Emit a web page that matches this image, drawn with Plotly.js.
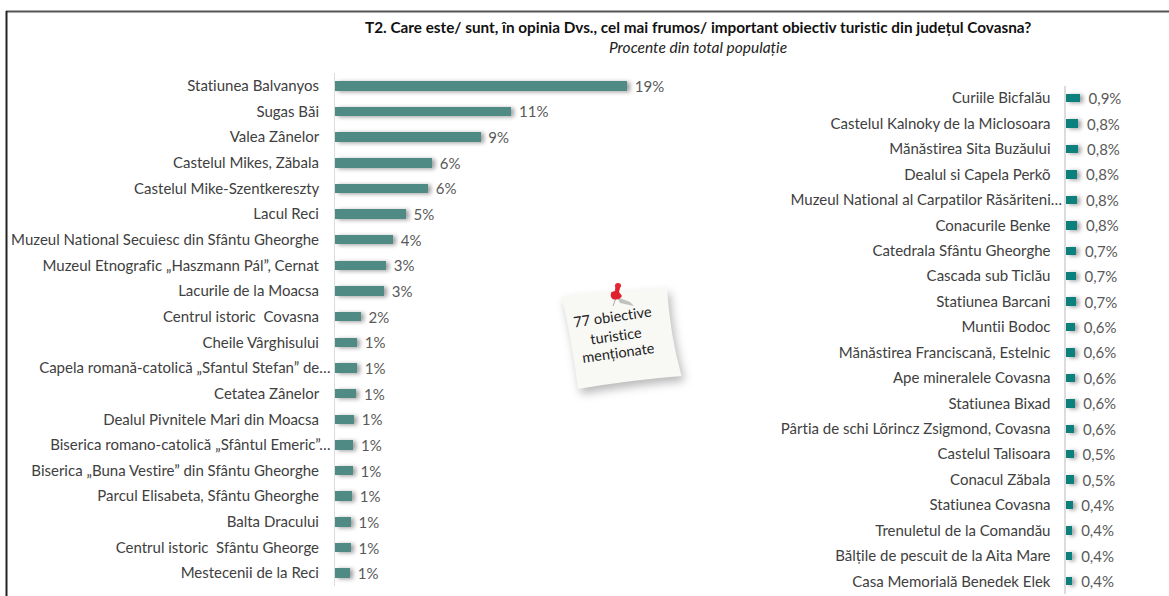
<!DOCTYPE html>
<html>
<head>
<meta charset="utf-8">
<script src="https://cdn.plot.ly/plotly-3.0.1.min.js"></script>
<style>
html,body{margin:0;padding:0;background:#fff;overflow:hidden}
#chart{width:1169px;height:596px}
svg text{font-variant-ligatures:none !important;font-feature-settings:"liga" 0,"clig" 0 !important}
.bars .point path{filter:drop-shadow(3px 1px 2px rgba(0,0,0,.38))}
.shapelayer path[data-index="2"]{filter:drop-shadow(3px 5px 5px rgba(0,0,0,.28))}
</style>
</head>
<body>
<div id="chart"></div>
<script>
const leftCategories = [
  "Statiunea Balvanyos","Sugas Băi","Valea Zânelor","Castelul Mikes, Zăbala",
  "Castelul Mike-Szentkereszty","Lacul Reci","Muzeul National Secuiesc din Sfântu Gheorghe",
  "Muzeul Etnografic „Haszmann Pál”, Cernat","Lacurile de la Moacsa","Centrul istoric  Covasna",
  "Cheile Vârghisului","Capela romană-catolică „Sfantul Stefan” de…","Cetatea Zânelor",
  "Dealul Pivnitele Mari din Moacsa","Biserica romano-catolică „Sfântul Emeric”…",
  "Biserica „Buna Vestire” din Sfântu Gheorghe","Parcul Elisabeta, Sfântu Gheorghe",
  "Balta Dracului","Centrul istoric  Sfântu Gheorge","Mestecenii de la Reci"
];
const leftValues = [18.96,11.45,9.45,6.3,6.04,4.6,3.77,3.31,3.18,1.67,1.43,1.43,1.38,1.23,1.19,1.15,1.1,1.02,1.02,0.97];

const rightCategories = [
  "Curiile Bicfalău","Castelul Kalnoky de la Miclosoara","Mănăstirea Sita Buzăului",
  "Dealul si Capela Perkõ","Muzeul National al Carpatilor Răsăriteni…","Conacurile Benke",
  "Catedrala Sfântu Gheorghe","Cascada sub Ticlău","Statiunea Barcani","Muntii Bodoc",
  "Mănăstirea Franciscană, Estelnic","Ape mineralele Covasna","Statiunea Bixad",
  "Pârtia de schi Lõrincz Zsigmond, Covasna","Castelul Talisoara","Conacul Zăbala",
  "Statiunea Covasna","Trenuletul de la Comandău","Bălțile de pescuit de la Aita Mare",
  "Casa Memorială Benedek Elek"
];
const rightValues = [0.92,0.82,0.82,0.76,0.75,0.75,0.68,0.65,0.65,0.6,0.58,0.58,0.57,0.56,0.52,0.52,0.44,0.43,0.43,0.43];

const titleLine = "T2. Care este/ sunt, în opinia Dvs., cel mai frumos/ important obiectiv turistic din județul Covasna?";
const subtitleLine = "Procente din total populație";
const noteLines = ["77 obiective","turistice","menționate"];

const W = 1169, H = 596, FONT = "Lato, 'Open Sans', sans-serif", TEXT = "#404040";
const px = x => x / W, py = y => 1 - y / H;
const pad = s => s.endsWith("…") ? s : s + "\u00a0\u00a0\u00a0";

function barTrace(cats, vals, color, gap, xa, ya, fmt) {
  return {
    type: "bar", orientation: "h", x: vals, y: cats, xaxis: xa, yaxis: ya,
    marker: {color: color, line: {width: 0}}, texttemplate: fmt, textposition: "outside",
    constraintext: "none", cliponaxis: false,
    textfont: {family: FONT, size: 15, color: "#595959"}, hoverinfo: "skip",
    width: gap
  };
}
function yAxis(cats, top, bottom, anchor, lw, standoff) {
  return {
    type: "category", autorange: "reversed", anchor: anchor,
    domain: [py(bottom), py(top)], tickmode: "array", tickvals: cats, ticktext: cats.map(pad),
    showline: true, linecolor: "#dcdcdc", linewidth: lw, showgrid: false, ticks: "", zeroline: false,
    tickfont: {family: FONT, size: 15, color: TEXT}, ticklabelstandoff: standoff, automargin: false
  };
}
function xAxis(l, r, max, anchor) {
  return {domain: [px(l), px(r)], range: [0, max], visible: false, anchor: anchor, fixedrange: true};
}
const noteFont = {family: FONT, size: 14.5, color: "#222"};
const layout = {
  width: W, height: H, margin: {l: 0, r: 0, t: 0, b: 0, pad: 0},
  paper_bgcolor: "#fff", plot_bgcolor: "rgba(0,0,0,0)", showlegend: false, separators: ", ",
  bargap: 0, font: {family: FONT},
  xaxis: xAxis(335, 720, 25, "y"), yaxis: yAxis(leftCategories, 73, 586, "x", 1.5, 0),
  xaxis2: xAxis(1066, 1169, 6.867, "y2"), yaxis2: yAxis(rightCategories, 85.5, 594, "x2", 2, -1),
  shapes: [
    {type: "line", xref: "paper", yref: "paper", x0: px(6), x1: px(1169), y0: py(11.5), y1: py(11.5), line: {color: "#555", width: 2}},
    {type: "line", xref: "paper", yref: "paper", x0: px(6.5), x1: px(6.5), y0: py(11), y1: py(596), line: {color: "#222", width: 2}},
    {type: "path", xref: "paper", yref: "paper", fillcolor: "#f8f8f5", line: {width: 0},
     path: `M ${px(561.5)} ${py(296)} L ${px(667)} ${py(288)} Q ${px(670)} ${py(335)} ${px(681.5)} ${py(376)} Q ${px(630)} ${py(380)} ${px(578)} ${py(389)} Q ${px(572)} ${py(340)} ${px(561.5)} ${py(296)} Z`},
    {type: "path", xref: "paper", yref: "paper", fillcolor: "rgba(90,90,90,.35)", line: {width: 0},
     path: `M ${px(617)} ${py(297)} L ${px(630)} ${py(302)} L ${px(634)} ${py(306)} L ${px(620)} ${py(303)} Z`},
    {type: "line", xref: "paper", yref: "paper", x0: px(616), x1: px(613), y0: py(298), y1: py(306), line: {color: "#a9a9a9", width: 1}},
    {type: "path", xref: "paper", yref: "paper", fillcolor: "#e0202c", line: {width: 0},
     path: `M ${px(615.5)} ${py(285)} L ${px(620.5)} ${py(286)} L ${px(619)} ${py(292)} L ${px(622)} ${py(296)} Q ${px(619)} ${py(301)} ${px(612.5)} ${py(299)} Q ${px(609.5)} ${py(296)} ${px(611.5)} ${py(292)} L ${px(615)} ${py(291)} Z`},
    {type: "circle", xref: "paper", yref: "paper", x0: px(615), x1: px(621), y0: py(283), y1: py(288), fillcolor: "#e42532", line: {width: 0}}
  ],
  annotations: [
    {text: "<b>" + titleLine + "</b>", xref: "paper", yref: "paper", x: px(697.5), y: py(27), xanchor: "center", yanchor: "middle", showarrow: false, font: {family: FONT, size: 15.3, color: "#111"}},
    {text: "<i>" + subtitleLine + "</i>", xref: "paper", yref: "paper", x: px(698), y: py(47), xanchor: "center", yanchor: "middle", showarrow: false, font: {family: FONT, size: 15.5, color: "#222"}},
    {text: noteLines[0], xref: "paper", yref: "paper", x: px(612.5), y: py(316), xanchor: "center", yanchor: "middle", textangle: -8, showarrow: false, font: noteFont},
    {text: noteLines[1], xref: "paper", yref: "paper", x: px(616), y: py(335), xanchor: "center", yanchor: "middle", textangle: -8, showarrow: false, font: noteFont},
    {text: noteLines[2], xref: "paper", yref: "paper", x: px(618), y: py(353), xanchor: "center", yanchor: "middle", textangle: -8, showarrow: false, font: noteFont}
  ]
};
const data = [
  barTrace(leftCategories, leftValues, "#4f8a84", 0.37, "x", "y", "\u00a0\u200a%{x:.0f}%"),
  barTrace(rightCategories, rightValues, "#0c807c", 0.33, "x2", "y2", "\u00a0\u2009%{x:.1f}%")
];
Plotly.newPlot("chart", data, layout, {displayModeBar: false, staticPlot: true});
</script>
</body>
</html>
